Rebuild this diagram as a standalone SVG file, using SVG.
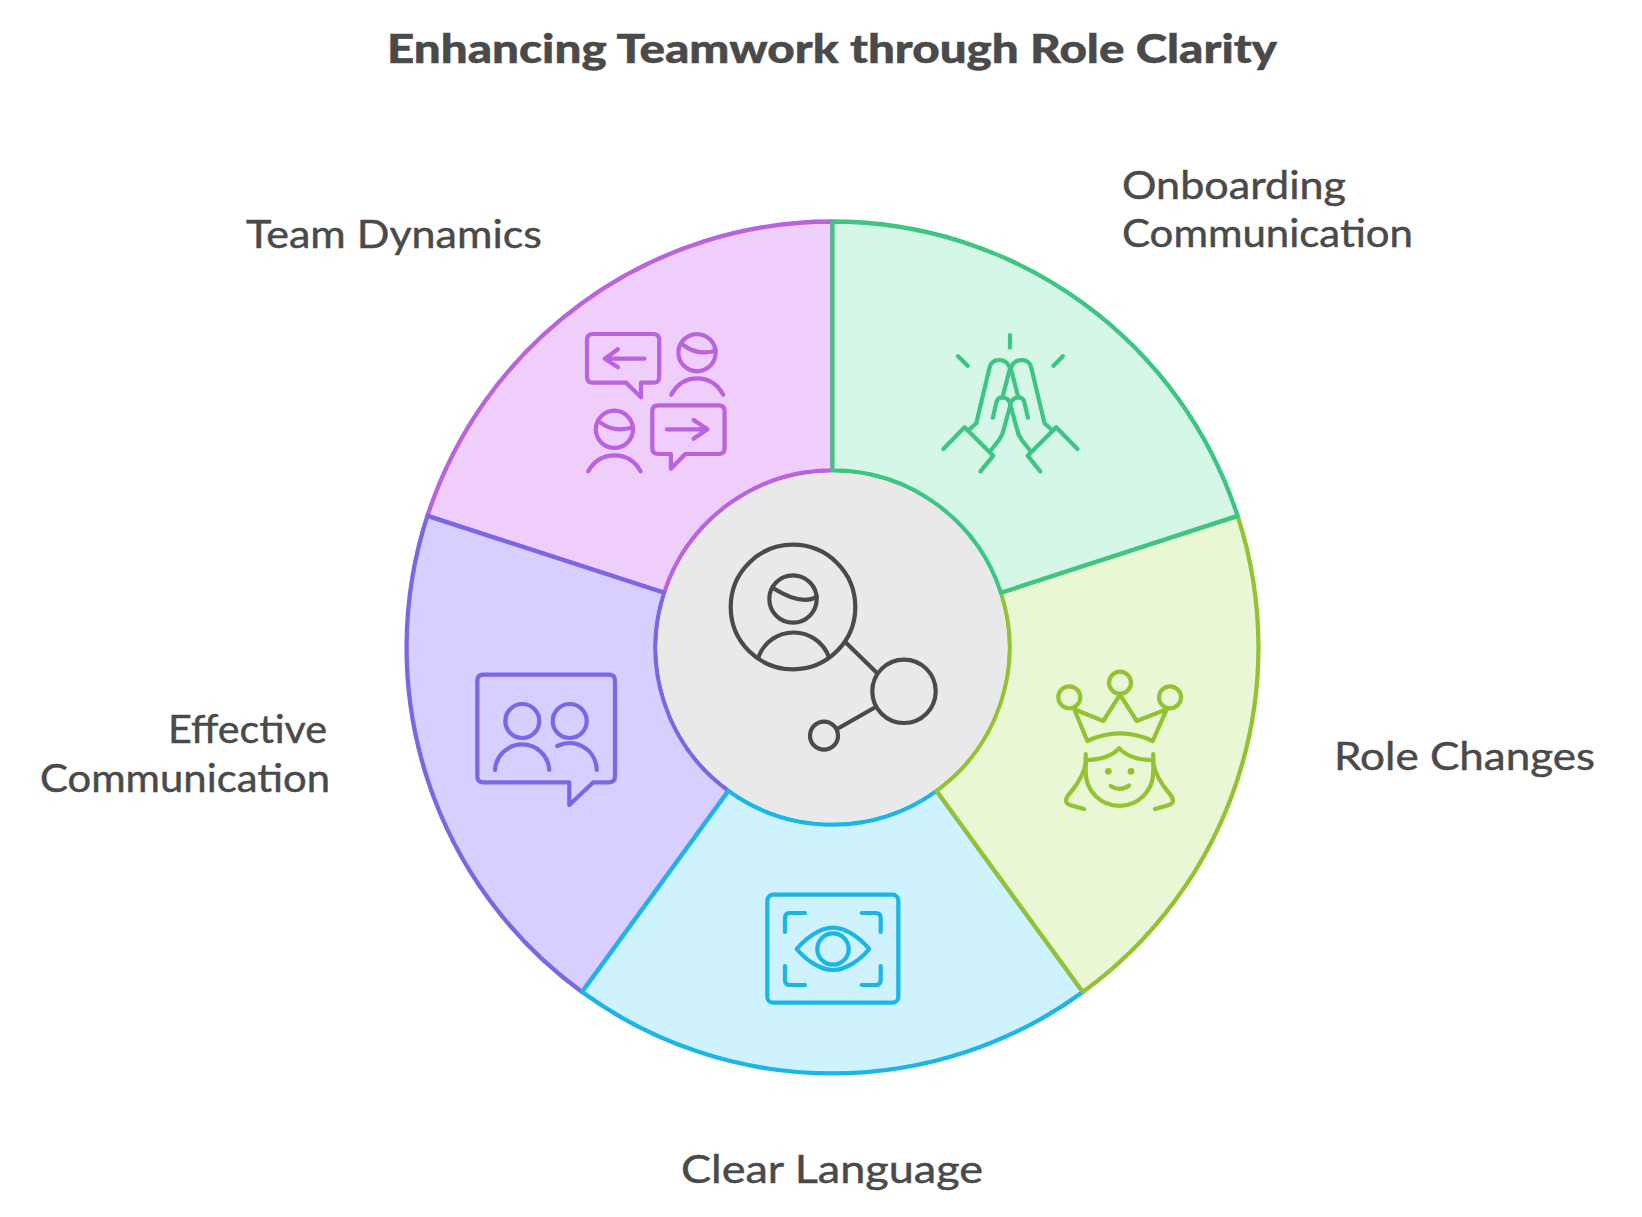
<svg xmlns="http://www.w3.org/2000/svg" width="1642" height="1217" viewBox="0 0 1642 1217">
<style>
text{font-family:"Lato","Open Sans","Liberation Sans",sans-serif;fill:#4a4a4a;stroke:#4a4a4a;stroke-width:.45;font-size:39px}
.title{font-weight:900;font-size:40px}
.seg{stroke-width:4.3;stroke-linejoin:round}
.ic{fill:none;stroke-width:4.2;stroke-linecap:round;stroke-linejoin:round}
.dot{stroke:none}
.purple{fill:#f0cefb;stroke:#b963e0}
.violet{fill:#d9cfff;stroke:#7b66e6}
.cyan{fill:#cff2ff;stroke:#1bb5e8}
.lime{fill:#eaf7d5;stroke:#93c332}
.green{fill:#d4f7e7;stroke:#3cc583}
.ip{stroke:#b963e0}.iv{stroke:#7b66e6}.ic-c{stroke:#1bb5e8}.il{stroke:#93c332}.ig{stroke:#3cc583}.ik{stroke:#4a4a4a}
</style>
<defs>
<g id="hand">
<path d="M1010 368.3C1008 362.5 1004 360 999 360C994 360 990.5 363 989.4 368.3L976.3 423.3L968 430.7"/>
<path d="M943.3 449L964.6 427.3L993.2 455.7L980.5 471.3"/>
<path d="M1010 368.3L1002.5 397.3"/>
<path d="M992.8 417.7L996.6 401.7C997.5 398.5 1000 397.3 1002.5 397.3C1006.5 397.3 1010 400.5 1010.4 405L1004 428.5C1003 433.5 1001.5 436.5 999 440L991.1 450"/>
</g>
</defs>
<text class="title" x="387" y="63" textLength="890" lengthAdjust="spacingAndGlyphs">Enhancing Teamwork through Role Clarity</text>

<g id="connectors"></g>

<g id="team-dynamics">
<path class="seg purple" d="M832.5 221.5A426 426 0 0 0 427.4 515.9L664.2 592.8A177 177 0 0 1 832.5 470.5Z"/>
<g class="ic ip">
<path d="M593 334H653.2Q659.2 334 659.2 340V376.7Q659.2 382.7 653.2 382.7H641V397.3L626.1 382.7H593Q587 382.7 587 376.7V340Q587 334 593 334Z"/>
<path d="M644.4 358.7H604.8M617.9 349.3L604.8 358.7L617.9 367.3"/>
<circle cx="697" cy="352.7" r="18.6"/>
<path d="M683.3 345Q697 356 715.6 350.7"/>
<path d="M671.2 394.7C677 384 686 378.3 697.2 378.3C708.5 378.3 717.5 384 723.2 394.7"/>
<circle cx="614.4" cy="429.3" r="18.6"/>
<path d="M600.5 422.7Q614 433 633 427.3"/>
<path d="M588.2 471.3C594 461 603 455.3 614.4 455.3C626 455.3 635 461 640.6 471.3"/>
<path d="M658.3 405.3H718.6Q724.6 405.3 724.6 411.3V448Q724.6 454 718.6 454H685.3L670.9 468.7V454H658.3Q652.3 454 652.3 448V411.3Q652.3 405.3 658.3 405.3Z"/>
<path d="M666.8 429.3H707.4M693.6 420L707.4 429.3L693.6 438.7"/>
</g>
<text x="246" y="248" textLength="296" lengthAdjust="spacingAndGlyphs">Team Dynamics</text>
</g>

<g id="effective-communication">
<path class="seg violet" d="M427.4 515.9A426 426 0 0 0 582.1 992.1L728.5 790.7A177 177 0 0 1 664.2 592.8Z"/>
<g class="ic iv">
<path d="M483.3 674.7H609Q615 674.7 615 680.7V776.3Q615 782.3 609 782.3H593.3L569.3 805V782.3H483.3Q477.3 782.3 477.3 776.3V680.7Q477.3 674.7 483.3 674.7Z"/>
<circle cx="522.3" cy="721" r="17"/>
<circle cx="569.7" cy="721" r="17"/>
<path d="M495 770A27.2 27.2 0 0 1 549.3 770"/>
<path d="M557.3 746A27.2 27.2 0 0 1 596.7 770"/>
</g>
<text x="168" y="743" textLength="159" lengthAdjust="spacingAndGlyphs">Effective</text>
<text x="40" y="791.7" textLength="290" lengthAdjust="spacingAndGlyphs">Communication</text>
</g>

<g id="clear-language">
<path class="seg cyan" d="M582.1 992.1A426 426 0 0 0 1082.9 992.1L936.5 790.7A177 177 0 0 1 728.5 790.7Z"/>
<g class="ic ic-c">
<rect x="767.3" y="894.7" width="131" height="108" rx="6"/>
<path d="M785 932V918Q785 913 790 913H805M861.7 913H875.7Q880.7 913 880.7 918V932M785 966V980Q785 985 790 985H805M861.7 985H875.7Q880.7 985 880.7 980V966"/>
<path d="M796.7 949C806 938 820 927.7 833 927.7C846 927.7 860 938 869.3 949C860 960 846 970 833 970C820 970 806 960 796.7 949Z"/>
<circle cx="833" cy="949" r="15.7"/>
</g>
<text x="681" y="1183" textLength="302" lengthAdjust="spacingAndGlyphs">Clear Language</text>
</g>

<g id="role-changes">
<path class="seg lime" d="M1082.9 992.1A426 426 0 0 0 1237.6 515.9L1000.8 592.8A177 177 0 0 1 936.5 790.7Z"/>
<g class="ic il">
<circle cx="1069.3" cy="697.3" r="11"/>
<circle cx="1120" cy="682.7" r="11"/>
<circle cx="1170" cy="697.3" r="11"/>
<path d="M1074.3 709.3L1087.3 741Q1120 725.7 1152.7 741L1166.7 709.3L1136.7 721L1120 694.7L1103.3 721Z"/>
<path d="M1085.7 760Q1108 760 1119.3 748.3Q1130 760 1153.3 760"/>
<path d="M1085.7 754V772A33.8 33.8 0 0 0 1153.3 772V754"/>
<circle class="dot" cx="1108.3" cy="771.3" r="3.4" fill="#93c332"/>
<circle class="dot" cx="1131" cy="771.3" r="3.4" fill="#93c332"/>
<path d="M1110.7 786Q1120 792 1129 785.5"/>
<path d="M1085.7 763Q1083 778 1070 793Q1062 802 1070 805L1084 809"/>
<path d="M1153.3 763Q1156 778 1169 793Q1177 802 1169 805L1155 809"/>
</g>
<text x="1334" y="770" textLength="261" lengthAdjust="spacingAndGlyphs">Role Changes</text>
</g>

<g id="onboarding-communication">
<path class="seg green" d="M1237.6 515.9A426 426 0 0 0 832.5 221.5V470.5A177 177 0 0 1 1000.8 592.8Z"/>
<g class="ic ig">
<path d="M1010 335V347.7M958 356.3L967.7 365.7M1062.8 356.3L1053.5 365.7"/>
<use href="#hand"/>
<use href="#hand" transform="translate(2020.8 0) scale(-1 1)"/>
</g>
<text x="1122" y="199.3" textLength="224" lengthAdjust="spacingAndGlyphs">Onboarding</text>
<text x="1122" y="246.7" textLength="291" lengthAdjust="spacingAndGlyphs">Communication</text>
</g>

<g id="role-clarity-hub">
<circle cx="832.5" cy="647.5" r="175" fill="#e9e9e9"/>
<g class="ic ik">
<circle cx="793" cy="607" r="62.3"/>
<circle cx="793" cy="599" r="23.7"/>
<path d="M773.3 588.3Q801.7 606 816.7 596.7"/>
<path d="M758.3 657.3A37.6 37.6 0 0 1 829 657.3"/>
<path d="M846 642.7L877.3 673.3"/>
<circle cx="904" cy="691.3" r="31.7"/>
<circle cx="824" cy="735.7" r="14"/>
<path d="M874.3 707.7L836.7 729.3"/>
</g>
</g>
</svg>
